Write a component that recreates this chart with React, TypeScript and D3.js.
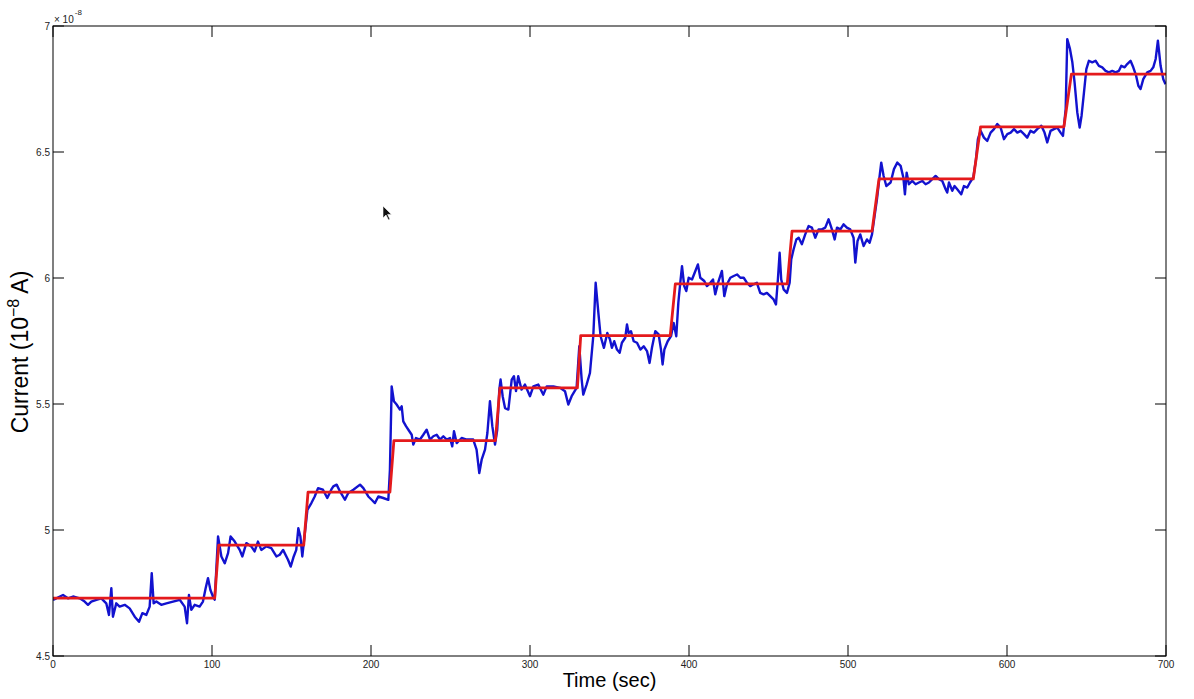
import React from "react";
import * as d3 from "d3";

// ---- data ----
const xTicks = [0, 100, 200, 300, 400, 500, 600, 700];
const xTickLabels = ["0", "100", "200", "300", "400", "500", "600", "700"];
const yTicks = [4.5, 5, 5.5, 6, 6.5, 7];
const yTickLabels = ["4.5", "5", "5.5", "6", "6.5", "7"];

// red fitted staircase (x10^-8 A)
const stepLevels = [4.73, 4.94, 5.15, 5.355, 5.564, 5.771, 5.977, 6.186, 6.393, 6.6, 6.809];
const stepStart = [101.7, 157.7, 211.9, 278.2, 329.8, 388.2, 461.8, 515.1, 578.8, 635.8];
const stepEnd = [104.2, 160.4, 214.4, 281.1, 331.9, 391.4, 464.8, 519.5, 583.4, 640.5];

// blue measured current: time (sec)
const blueTime = [
  0, 2.1, 6.3, 9.4, 12.6, 16.8, 19.9, 22, 24.1, 27.3, 30.4, 33.5, 35.2, 36.7, 37.7, 39.8, 41.9, 45.1, 48.2, 51.4,
  54.1, 56.2, 58.7, 60.8, 62.1, 63.3, 65, 68.1, 71.3, 75.5, 79.7, 82.8, 84.3, 85.5, 87, 89.1, 92.2, 94.3, 96, 97.5,
  99, 100.6, 101.7, 103.8, 105.9, 108, 110.1, 111.7, 114.3, 117.4, 119.1, 121.6, 124.7, 126.8, 128.9, 131, 134.2, 137.3, 140.5, 142.6,
  144.7, 147.8, 149.5, 151.4, 153, 154.3, 155.6, 156.8, 157.7, 160, 162.5, 164.6, 166.7, 169.8, 172.5, 175,
  176.3, 178.4, 180.5, 183.6, 185.7, 188.9, 193.1, 195.2, 198.3, 200.4, 202.5, 204.6, 207.7, 210.9, 211.9, 213, 214.4, 216.1, 218.2, 219.3,
  220.3, 222, 223.5, 225.6, 226.6, 228.3, 230.8, 232.9, 235, 237.1, 239.2, 241.3, 243.4, 245.5, 247.6, 249.7, 251.1, 252.2, 253.9, 257,
  260.2, 264.3, 266.4, 268.1, 269.6, 271.7, 273.2, 274.8, 276.3, 278, 279.4, 280.7, 281.5, 282.8, 284.3, 286.4, 288.5, 289.9, 291.2, 292.6,
  294.7, 296.8, 300, 302.1, 305.2, 308.4, 310.5, 314.7, 318.9, 322, 324.1, 326.2, 329.3, 331, 332.5, 333.5, 335.6, 337.7, 339.8, 341.3,
  343, 344.4, 346.5, 348.6, 350.3,
  351.5, 353, 354.7, 356.4, 357.8, 359.9, 361, 362, 363.5, 365.2, 367.3, 369.4, 371.5, 373.6, 375.2, 376.7, 378.8, 380.9, 382.4, 383.4,
  384.5, 386.6, 388.7, 390.3, 392, 393.3, 394.5, 395.6, 397, 398.3, 399.8, 401.9, 404, 405.6, 407.1, 409.6, 411.3, 413.4, 415.1, 416.5,
  418.6, 420.7, 422.2, 423.9, 426, 428.1, 430.2, 432.3, 434.4, 436.5, 438.5, 440.6, 442.7, 444.8, 446.9, 449, 451.1, 453.2, 454.7, 455.9,
  457, 458, 459.5, 461.6, 463.3, 464.3, 465.8, 467.5, 469, 471, 473.1, 475.2, 477.3, 479.4, 481.5, 483.6, 485.7, 487.8, 489.9, 491.6,
  493.1, 495.2, 497.2, 499.3, 501.4, 503.5, 504.6, 506, 507.7, 509.8, 511.9, 513.6, 515.1, 516.7, 518.2, 519.9, 520.9, 522.4, 524.1,
  526.8, 528.9, 531, 533.1, 534.8, 535.8, 536.9, 538.3, 540.4, 542.5, 544.6, 546.7, 548.8, 550.9, 553, 555.1, 557.2, 559.3, 561.4, 562.4,
  563.5, 565.6, 567, 568.7, 571.2, 572.9, 575, 576.7, 578.8, 580.5, 581.7, 583.4, 585.5, 587.6, 589.7, 591.8, 593.9, 596, 598.1, 600.2,
  602.3, 604.4, 606.5, 608.6, 610.7, 612.7, 614.8, 616.9, 619, 621.6, 623.6, 625.3, 627.4, 629.5, 631.6, 633.7, 635.2, 636.9, 637.9, 639.6,
  641.1, 642.5, 644.2, 645.7, 646.9, 648.4, 649.9, 651.5, 653.6, 655.7, 657.8, 659.9, 662, 664.1, 666.2, 668.3, 670.4, 671.9, 674, 675.6,
  677.7, 679.4, 681.2, 682.6, 684, 685.7, 688.2, 690.3, 692, 693.5, 694.9, 696.6, 698.3, 699.7,
];
// blue measured current: value (x10^-8 A)
const blueCurrent = [
  4.723, 4.729, 4.742, 4.729, 4.736, 4.729, 4.716, 4.703, 4.716, 4.723, 4.729, 4.709, 4.663, 4.769, 4.656, 4.709, 4.696, 4.703, 4.689, 4.656,
  4.636, 4.67, 4.663, 4.696, 4.829, 4.709, 4.716, 4.703, 4.709, 4.716, 4.723, 4.696, 4.63, 4.742, 4.683, 4.703, 4.696, 4.716, 4.769, 4.809,
  4.762, 4.736, 4.723, 4.974, 4.895, 4.868, 4.908, 4.974, 4.954, 4.921, 4.895, 4.948, 4.935, 4.915, 4.954, 4.921, 4.935, 4.928, 4.895, 4.902,
  4.921, 4.882, 4.855, 4.895, 4.921, 5.007, 4.974, 4.895, 4.948, 5.08, 5.107, 5.133, 5.166, 5.16, 5.127, 5.16,
  5.173, 5.18, 5.153, 5.12, 5.147, 5.16, 5.18, 5.166, 5.133, 5.12, 5.107, 5.133, 5.127, 5.12, 5.239, 5.57, 5.511, 5.498, 5.478, 5.491,
  5.431, 5.412, 5.398, 5.378, 5.339, 5.365, 5.359, 5.378, 5.398, 5.359, 5.372, 5.378, 5.359, 5.372, 5.359, 5.365, 5.332, 5.392, 5.345, 5.365,
  5.359, 5.359, 5.319, 5.226, 5.279, 5.319, 5.385, 5.511, 5.412, 5.339, 5.398, 5.557, 5.597, 5.531, 5.484, 5.478, 5.597, 5.61, 5.551, 5.61,
  5.557, 5.577, 5.531, 5.57, 5.577, 5.537, 5.57, 5.57, 5.564, 5.551, 5.498, 5.531, 5.564, 5.729, 5.597, 5.537, 5.577, 5.623, 5.769, 5.981,
  5.862, 5.769, 5.723, 5.782, 5.756,
  5.723, 5.749, 5.716, 5.703, 5.743, 5.763, 5.816, 5.782, 5.789, 5.749, 5.743, 5.716, 5.729, 5.71, 5.663, 5.723, 5.789, 5.776, 5.716, 5.657,
  5.716, 5.749, 5.769, 5.822, 5.769, 5.902, 5.981, 6.047, 5.968, 5.948, 6.001, 5.994, 6.028, 6.054, 6.001, 5.988, 5.968, 5.981, 5.994, 5.935,
  5.988, 6.028, 5.928, 5.975, 6.001, 6.008, 6.014, 6.001, 6.001, 5.981, 5.968, 5.975, 5.981, 5.941, 5.935, 5.941, 5.928, 5.915, 5.895, 5.994,
  6.1, 5.994, 5.955, 5.941, 5.981, 6.074, 6.114, 6.153, 6.16, 6.134, 6.173, 6.206, 6.2, 6.16, 6.193, 6.193, 6.2, 6.233, 6.193, 6.153,
  6.2, 6.193, 6.213, 6.2, 6.193, 6.16, 6.061, 6.147, 6.173, 6.127, 6.153, 6.14, 6.173, 6.246, 6.312, 6.405, 6.458, 6.405, 6.365,
  6.379, 6.432, 6.458, 6.445, 6.399, 6.332, 6.418, 6.372, 6.385, 6.372, 6.379, 6.385, 6.372, 6.379, 6.392, 6.405, 6.392, 6.385, 6.352, 6.339,
  6.379, 6.346, 6.365, 6.352, 6.332, 6.365, 6.359, 6.379, 6.399, 6.471, 6.551, 6.584, 6.557, 6.544, 6.577, 6.591, 6.611, 6.597, 6.551, 6.571,
  6.577, 6.591, 6.577, 6.584, 6.571, 6.557, 6.584, 6.577, 6.591, 6.604, 6.577, 6.538, 6.584, 6.591, 6.597, 6.577, 6.564, 6.67, 6.948, 6.909,
  6.856, 6.776, 6.657, 6.597, 6.644, 6.736, 6.829, 6.862, 6.856, 6.862, 6.842, 6.836, 6.822, 6.816, 6.822, 6.816, 6.822, 6.842, 6.836, 6.849,
  6.862, 6.836, 6.803, 6.763, 6.75, 6.789, 6.816, 6.822, 6.836, 6.869, 6.942, 6.842, 6.789, 6.769,
];

const W = 1194;
const H = 699;
const M = { left: 53, right: 1166, top: 26, bottom: 656 };
const FONT = "'Liberation Sans', Arial, Helvetica, sans-serif";

export default function App() {
  const x = d3.scaleLinear().domain([0, 700]).range([M.left, M.right]);
  const y = d3.scaleLinear().domain([4.5, 7]).range([M.bottom, M.top]);

  const bluePts: [number, number][] = blueTime.map((t, i) => [t, blueCurrent[i]]);
  const redPts: [number, number][] = [[0, stepLevels[0]]];
  stepStart.forEach((s, i) => {
    redPts.push([s, stepLevels[i]]);
    redPts.push([stepEnd[i], stepLevels[i + 1]]);
  });
  redPts.push([700, stepLevels[stepLevels.length - 1]]);

  const line = d3
    .line<[number, number]>()
    .x((d) => x(d[0]))
    .y((d) => y(d[1]));

  const tickLen = 11;

  return (
    <div style={{ position: "fixed", left: 0, top: 0, width: W, height: H, background: "#fff" }}>
      <svg width={W} height={H} viewBox={`0 0 ${W} ${H}`} style={{ display: "block", fontFamily: FONT }}>
        <rect x={0} y={0} width={W} height={H} fill="#fff" />
        <clipPath id="plotclip">
          <rect x={M.left} y={M.top} width={M.right - M.left} height={M.bottom - M.top} />
        </clipPath>
        <g clipPath="url(#plotclip)">
          <path d={line(bluePts) || ""} fill="none" stroke="#1212cf" strokeWidth={2.4} strokeLinejoin="round" />
          <path d={line(redPts) || ""} fill="none" stroke="#e41a1c" strokeWidth={2.8} strokeLinejoin="round" />
        </g>

        {/* box */}
        <rect
          x={M.left}
          y={M.top}
          width={M.right - M.left}
          height={M.bottom - M.top}
          fill="none"
          stroke="#000"
          strokeWidth={1}
        />

        {/* x ticks */}
        {xTicks.map((t, i) => (
          <g key={"xt" + i}>
            <line x1={x(t)} x2={x(t)} y1={M.bottom} y2={M.bottom - tickLen} stroke="#000" strokeWidth={1} />
            <line x1={x(t)} x2={x(t)} y1={M.top} y2={M.top + tickLen} stroke="#000" strokeWidth={1} />
            <text x={x(t)} y={M.bottom + 12} fontSize={10} textAnchor="middle" fill="#222">
              {xTickLabels[i]}
            </text>
          </g>
        ))}

        {/* y ticks */}
        {yTicks.map((v, i) => (
          <g key={"yt" + i}>
            <line x1={M.left} x2={M.left + tickLen} y1={y(v)} y2={y(v)} stroke="#000" strokeWidth={1} />
            <line x1={M.right} x2={M.right - tickLen} y1={y(v)} y2={y(v)} stroke="#000" strokeWidth={1} />
            <text x={M.left - 3} y={y(v) + 3.5} fontSize={10} textAnchor="end" fill="#222">
              {yTickLabels[i]}
            </text>
          </g>
        ))}

        {/* exponent label */}
        <text x={M.left + 1} y={M.top - 3} fontSize={10} fill="#222">
          {"\u00d7 10"}
          <tspan dx={1} dy={-8} fontSize={8}>
            -8
          </tspan>
        </text>

        {/* axis labels */}
        <text x={(M.left + M.right) / 2} y={687} fontSize={20} textAnchor="middle" fill="#000">
          Time (sec)
        </text>
        <text
          transform={`translate(28, ${352}) rotate(-90)`}
          fontSize={23}
          textAnchor="middle"
          fill="#000"
        >
          Current (10
          <tspan dy={-9} fontSize={16}>
            {"\u22128"}
          </tspan>
          <tspan dy={9}> A)</tspan>
        </text>

        {/* mouse pointer present in the screenshot */}
        <path
          d="M383,206 L383,218 L386,215 L388.5,220 L390,219.3 L387.6,214.4 L391.5,214.4 Z"
          fill="#111"
          stroke="#fff"
          strokeWidth={0.6}
        />
      </svg>
    </div>
  );
}
